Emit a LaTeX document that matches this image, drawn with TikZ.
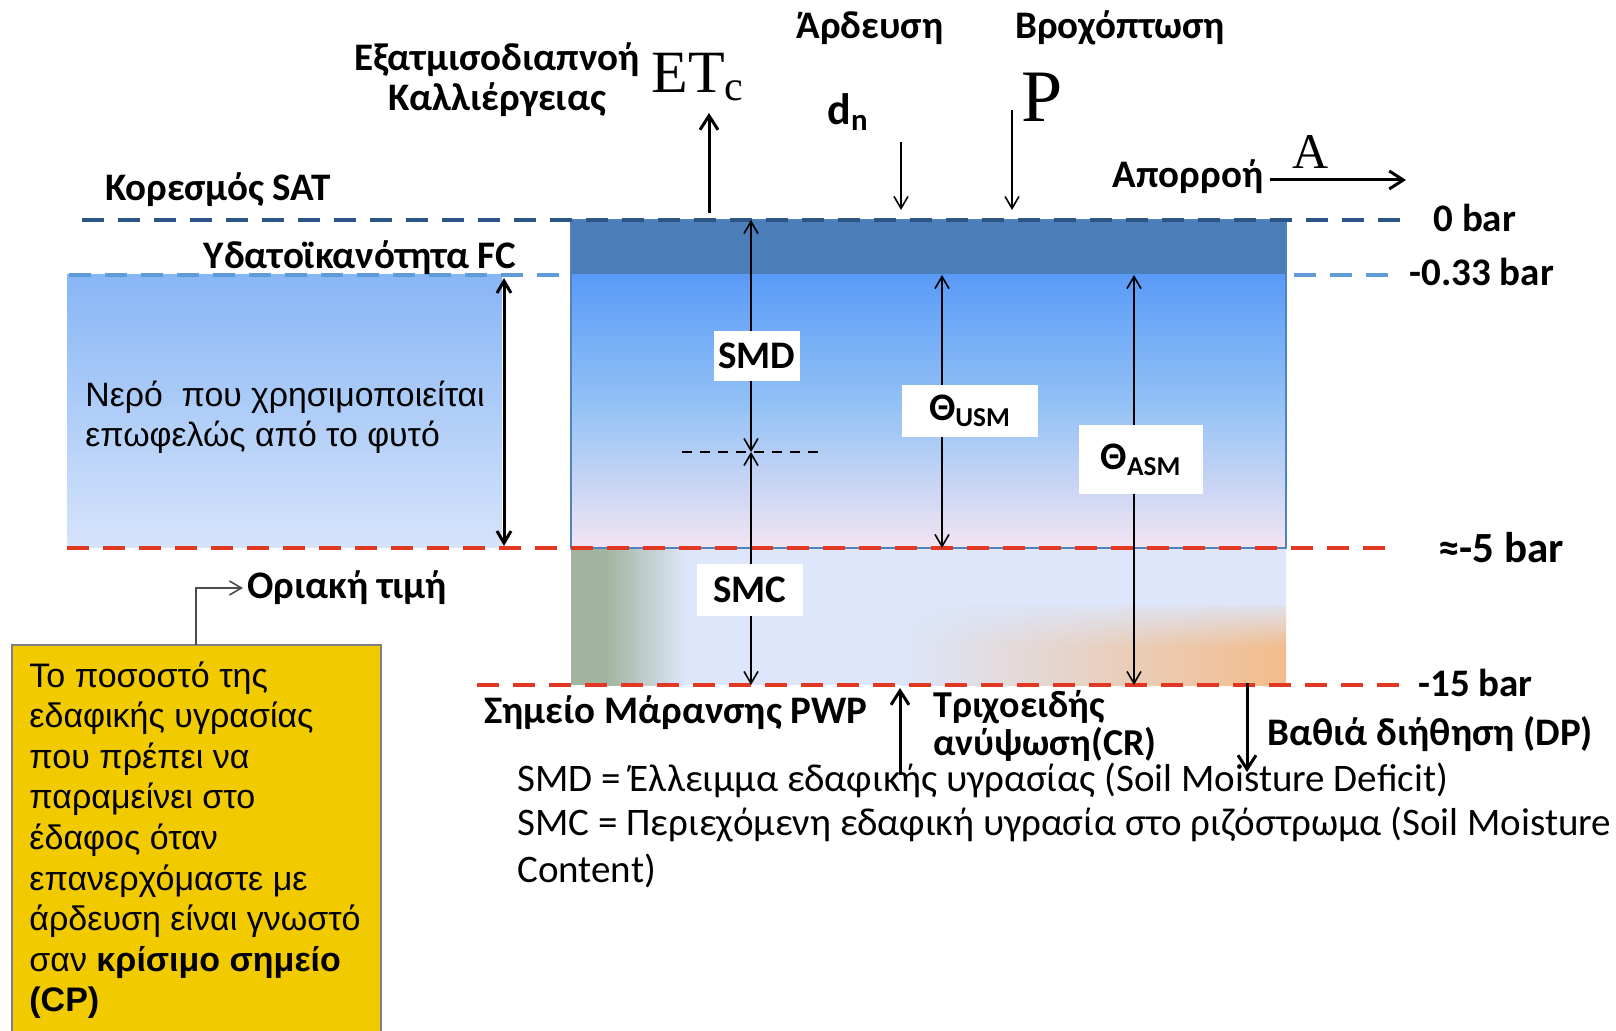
\documentclass[tikz,border=0pt]{standalone}
\usepackage{fontspec}
\setmainfont{Carlito}
\newfontfamily\arialfont{Liberation Sans}
\newfontfamily\timesfont{Liberation Serif}
\usepackage{tikz}
\usetikzlibrary{arrows.meta, fadings, positioning}

\definecolor{satblue}{RGB}{45,85,135}
\definecolor{fcblue}{RGB}{95,155,215}
\definecolor{pwpred}{RGB}{225,55,35}
\definecolor{bandblue}{RGB}{75,125,185}
\definecolor{topblue}{RGB}{90,155,248}
\definecolor{midblue}{RGB}{150,195,245}
\definecolor{lowblue}{RGB}{205,210,238}
\definecolor{pinkish}{RGB}{244,228,243}
\definecolor{leftblue}{RGB}{135,182,245}
\definecolor{leftpale}{RGB}{214,228,250}
\definecolor{soilpale}{RGB}{221,230,250}
\definecolor{soilgreen}{RGB}{160,180,158}
\definecolor{soilorange}{RGB}{243,188,138}
\definecolor{cpyellow}{RGB}{242,202,0}
\definecolor{boxedge}{RGB}{80,130,190}

\tikzfading[name=fadedown, top color=transparent!0, bottom color=transparent!100]

\begin{document}
\begin{tikzpicture}[x=0.5pt, y=-0.5pt,
    >={Straight Barb[length=6pt,width=7pt]},
    lbl/.style={font=\bfseries\fontsize{19.5}{20}\selectfont, inner sep=0pt},
    bar/.style={lbl, anchor=west},
    deftext/.style={font=\fontsize{19.5}{22}\selectfont, inner sep=0pt, anchor=west},
    valbox/.style={fill=white, inner sep=0pt, font=\bfseries\fontsize{19.5}{20}\selectfont},
    dimarrow/.style={<->, line width=0.8pt},
    flux/.style={->, line width=0.8pt},
    bigflux/.style={-{Straight Barb[length=7pt,width=9pt]}, line width=1.5pt},
    satline/.style={satblue, line width=2pt, dash pattern=on 11pt off 7pt},
    fcline/.style={fcblue, line width=2pt, dash pattern=on 11pt off 7pt},
    redline/.style={pwpred, line width=2pt, dash pattern=on 11pt off 7pt}]
    \useasboundingbox (0,0) rectangle (1616,1031);

    % Left zone of available water
    \shade[top color=leftblue, bottom color=leftpale] (67,275) rectangle (502,548);

    % Soil column
    \fill[bandblue] (571,220) rectangle (1286,275);
    \shade[top color=topblue, bottom color=midblue] (571,275) rectangle (1286,411);
    \shade[top color=midblue, middle color=lowblue, bottom color=pinkish] (571,410) rectangle (1286,548);
    \fill[soilpale] (571,548) rectangle (1286,685);
    \fill[soilgreen] (571,548) rectangle (605,685);
    \shade[left color=soilgreen, right color=soilpale] (605,548) rectangle (685,685);
    \shade[left color=soilpale, right color=soilorange] (900,605) rectangle (1286,685);
    \fill[soilpale, path fading=fadedown] (900,600) rectangle (1286,648);
    \draw[boxedge, line width=1pt] (571,548) -- (571,220) -- (1286,220) -- (1286,548) -- cycle;

    % Levels
    \draw[satline] (82,220) -- (1404,220);
    \draw[fcline] (69,275) -- (571,275);
    \draw[fcline] (1294,275) -- (1388,275);
    \draw[redline] (67,548) -- (1392,548);
    \draw[redline] (477,685) -- (1407,685);

    % Level names and pressures
    \node[lbl] (sat) at (218,190) {Κορεσμός SAT};
    \node[lbl] (fc) at (360,258) {Υδατοϊκανότητα FC};
    \node[bar] (bar0) at (1433,218) {0 bar};
    \node[bar] (barfc) at (1409,272) {-0.33 bar};
    \node[bar, font=\bfseries\fontsize{21.5}{22}\selectfont] (barcp) at (1438,548) {≈-5 bar};
    \node[bar] (barpwp) at (1418,683) {-15 bar};
    \node[lbl] (pwp) at (676,713) {Σημείο Μάρανσης PWP};

    % Inputs and outputs at the surface
    \node[lbl, align=center] (etname) at (497,80) {Εξατμισοδιαπνοή\\Καλλιέργειας};
    \node[font=\timesfont\fontsize{30}{30}\selectfont, inner sep=0pt] (et) at (698,77) {ET\textsubscript{c}};
    \node[lbl] (irr) at (870,28) {Άρδευση};
    \node[lbl] (rain) at (1120,28) {Βροχόπτωση};
    \node[lbl, font=\bfseries\fontsize{22}{22}\selectfont] (dn) at (848,112) {d\textsubscript{n}};
    \node[font=\timesfont\fontsize{37}{37}\selectfont, inner sep=0pt] (p) at (1042,97) {P};
    \node[lbl] (runoff) at (1188,177) {Απορροή};
    \node[font=\timesfont\fontsize{25}{25}\selectfont, inner sep=0pt] (a) at (1311,152) {A};

    \coordinate (etfoot) at (709,213);
    \coordinate (ettip) at (709,113);
    \coordinate (dntop) at (901,142);
    \coordinate (dntip) at (901,210);
    \coordinate (ptop) at (1012,110);
    \coordinate (ptip) at (1012,210);
    \coordinate (astart) at (1270,180);
    \coordinate (atip) at (1406,180);
    \draw[bigflux] (etfoot) -- (ettip);
    \draw[flux] (dntop) -- (dntip);
    \draw[flux] (ptop) -- (ptip);
    \draw[bigflux] (astart) -- (atip);

    % Dimensions in the column
    \coordinate (smdtop) at (751,220);
    \coordinate (split) at (751,452);
    \coordinate (smcbot) at (751,685);
    \coordinate (usmtop) at (942,275);
    \coordinate (usmbot) at (942,548);
    \coordinate (asmtop) at (1134,275);
    \coordinate (asmbot) at (1134,685);
    \draw[dimarrow] (smdtop) -- (split);
    \draw[dimarrow] (split) -- (smcbot);
    \draw[dimarrow] (usmtop) -- (usmbot);
    \draw[dimarrow] (asmtop) -- (asmbot);
    \draw[line width=1pt, dash pattern=on 5pt off 4pt] (682,452) -- (825,452);
    \node[valbox, minimum width=43pt, minimum height=25pt] (smd) at (757,356) {SMD};
    \node[valbox, minimum width=53pt, minimum height=26pt] (smc) at (750,590) {SMC};
    \node[valbox, minimum width=68pt, minimum height=26pt] (usm) at (970,411) {Θ\textsubscript{USM}};
    \node[valbox, minimum width=62pt, minimum height=34.5pt] (asm) at (1141,460) {Θ\textsubscript{ASM}};

    % Available water on the left
    \coordinate (awtop) at (504,278);
    \coordinate (awbot) at (504,546);
    \draw[<->, line width=1.5pt] (awtop) -- (awbot);
    \node[font=\arialfont\fontsize{16.9}{20}\selectfont, align=left, inner sep=0pt, anchor=west] (aw) at (85,417)
        {Νερό\ \ που χρησιμοποιείται\\επωφελώς από το φυτό};

    % Capillary rise and deep percolation
    \coordinate (crfoot) at (900,775);
    \coordinate (crtip) at (900,688);
    \coordinate (dpfoot) at (1247,683);
    \coordinate (dptip) at (1247,772);
    \draw[bigflux] (crfoot) -- (crtip);
    \draw[bigflux] (dpfoot) -- (dptip);
    \node[lbl, font=\bfseries\fontsize{19}{19}\selectfont, align=left, anchor=west] (cr) at (933,726) {Τριχοειδής\\ανύψωση(CR)};
    \node[bar] (dp) at (1267,734) {Βαθιά διήθηση (DP)};

    % Definitions
    \node[deftext] (defsmd) at (517,780) {SMD = Έλλειμμα εδαφικής υγρασίας (Soil Moisture Deficit)};
    \node[deftext] (defsmc) at (517,825) {SMC = Περιεχόμενη εδαφική υγρασία στο ριζόστρωμα (Soil Moisture};
    \node[deftext] (defend) at (517,871) {Content)};

    % Critical point box
    \fill[cpyellow] (12,645) rectangle (381,1035);
    \draw[gray, line width=1pt] (12,1035) -- (12,645) -- (381,645) -- (381,1035);
    \node[font=\arialfont\fontsize{17}{20.3}\selectfont, align=left, inner sep=0pt, anchor=north west] (cp) at (29,661)
        {Το ποσοστό της\\εδαφικής υγρασίας\\που πρέπει να\\παραμείνει στο\\έδαφος όταν\\επανερχόμαστε με\\άρδευση είναι γνωστό\\σαν \textbf{κρίσιμο σημείο}\\\textbf{(CP)}};
    \node[lbl, anchor=west] (limit) at (247,588) {Οριακή τιμή};
    \draw[->, gray!60!black, line width=0.8pt, shorten >=2pt] (196,645) |- (limit.west);
\end{tikzpicture}
\end{document}
